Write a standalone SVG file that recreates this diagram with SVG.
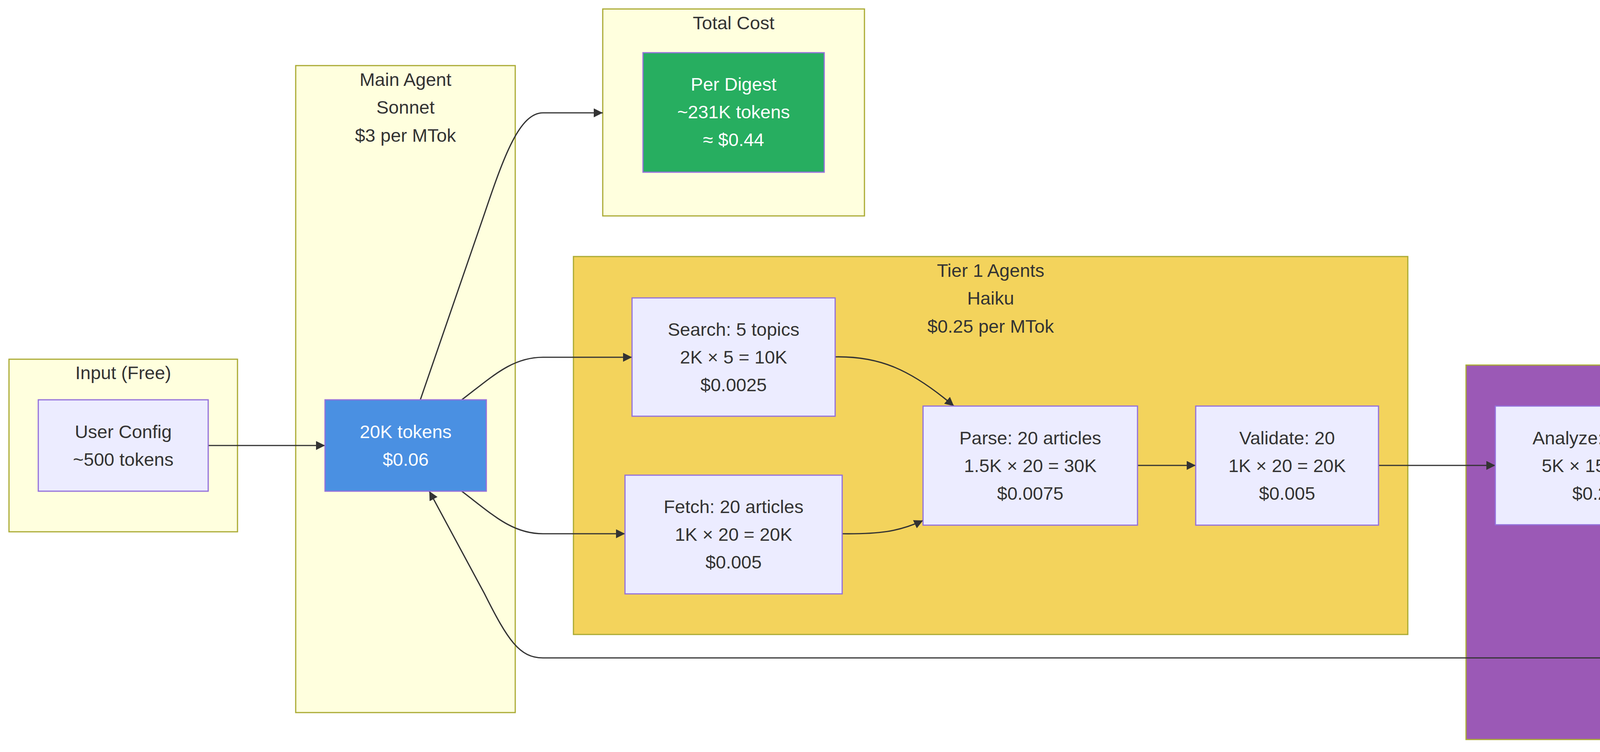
<svg xmlns="http://www.w3.org/2000/svg" width="5799" height="1926" viewBox="0 0 5799 1926">
<defs>
<style>
text{font-family:"Liberation Sans",Arial,sans-serif;font-size:47px;fill:#333;text-anchor:middle;dominant-baseline:central}
.cl{fill:#ffffde;stroke:#aaaa33;stroke-width:3}
.nd{fill:#ececff;stroke:#9370db;stroke-width:3}
.w{fill:#fff}
.e{fill:none;stroke:#333;stroke-width:3.2}
</style>
<marker id="arr" viewBox="0 0 10 10" refX="10" refY="5" markerUnits="userSpaceOnUse" markerWidth="23" markerHeight="23" orient="auto">
<path d="M0,0 L10,5 L0,10 z" fill="#333"/>
</marker>
</defs>
<rect width="5799" height="1926" fill="#fff"/>
<g id="clusters">
<g id="cluster-input"><rect class="cl" x="23" y="920" width="585" height="442"/><text x="315.5" y="954">Input (Free)</text></g>
<g id="cluster-main"><rect class="cl" x="757" y="168" width="562" height="1657"/><text x="1038" y="203">Main Agent</text><text x="1038" y="274">Sonnet</text><text x="1038" y="346">$3 per MTok</text></g>
<g id="cluster-total"><rect class="cl" x="1543" y="23" width="670" height="530"/><text x="1878" y="58">Total Cost</text></g>
<g id="cluster-tier1"><rect class="cl" style="fill:#f3d35c" x="1468" y="657" width="2136" height="968"/><text x="2536" y="692">Tier 1 Agents</text><text x="2536" y="763">Haiku</text><text x="2536" y="835">$0.25 per MTok</text></g>
<g id="cluster-tier2"><rect class="cl" style="fill:#9b59b6" x="3753" y="935" width="1998" height="959"/><text class="w" x="4752" y="969">Tier 2 Agents</text><text class="w" x="4752" y="1038">Sonnet</text></g>
</g>
<g id="connectors">
<path class="e" marker-end="url(#arr)" d="M533,1141 L832,1141"/>
<path class="e" marker-end="url(#arr)" d="M1076,1024 L1240,548 C1290,400 1330,289 1390,289 L1543,289"/>
<path class="e" marker-end="url(#arr)" d="M1182,1024 C1260,965 1310,915 1390,915 L1618,915"/>
<path class="e" marker-end="url(#arr)" d="M1182,1258 C1260,1317 1310,1367 1390,1367 L1600,1367"/>
<path class="e" marker-end="url(#arr)" d="M2138,914 C2250,912 2330,945 2442,1040"/>
<path class="e" marker-end="url(#arr)" d="M2156,1367 C2250,1368 2300,1362 2363,1333"/>
<path class="e" marker-end="url(#arr)" d="M2912,1192 L3061,1192"/>
<path class="e" marker-end="url(#arr)" d="M3529,1192 L3828,1192"/>
<path class="e" marker-end="url(#arr)" d="M4366,1192 L4515,1192"/>
<path class="e" marker-end="url(#arr)" d="M5058,1192 C5130,1190 5165,1200 5208,1228"/>
<path class="e" marker-end="url(#arr)" d="M5300,1502 C5230,1592 5160,1685 4900,1685 L1390,1685 C1330,1685 1300,1640 1240,1520 L1099,1258"/>
</g>
<g id="node-userconfig"><rect class="nd" x="98" y="1024" width="435" height="234"/><text x="315.5" y="1105">User Config</text><text x="315.5" y="1176">~500 tokens</text></g>
<g id="node-main"><rect class="nd" style="fill:#4a90e2" x="832" y="1024" width="413" height="234"/><text class="w" x="1038.5" y="1105">20K tokens</text><text class="w" x="1038.5" y="1176">$0.06</text></g>
<g id="node-perdigest"><rect class="nd" style="fill:#27ae60" x="1646" y="135" width="464" height="306"/><text class="w" x="1878" y="215">Per Digest</text><text class="w" x="1878" y="286">~231K tokens</text><text class="w" x="1878" y="357">≈ $0.44</text></g>
<g id="node-search"><rect class="nd" x="1618" y="763" width="520" height="303"/><text x="1878" y="843">Search: 5 topics</text><text x="1878" y="914">2K × 5 = 10K</text><text x="1878" y="985">$0.0025</text></g>
<g id="node-fetch"><rect class="nd" x="1600" y="1217" width="556" height="304"/><text x="1878" y="1297">Fetch: 20 articles</text><text x="1878" y="1368">1K × 20 = 20K</text><text x="1878" y="1439">$0.005</text></g>
<g id="node-parse"><rect class="nd" x="2363" y="1040" width="549" height="305"/><text x="2637.5" y="1121">Parse: 20 articles</text><text x="2637.5" y="1192">1.5K × 20 = 30K</text><text x="2637.5" y="1263">$0.0075</text></g>
<g id="node-validate"><rect class="nd" x="3061" y="1040" width="468" height="305"/><text x="3295" y="1121">Validate: 20</text><text x="3295" y="1192">1K × 20 = 20K</text><text x="3295" y="1263">$0.005</text></g>
<g id="node-analyze"><rect class="nd" x="3828" y="1040" width="538" height="304"/><text x="4097" y="1121">Analyze: 15 kept</text><text x="4097" y="1192">5K × 15 = 75K</text><text x="4097" y="1263">$0.225</text></g>
<g id="node-bias"><rect class="nd" x="4515" y="1040" width="543" height="304"/><text x="4786.5" y="1121">Bias: 12 included</text><text x="4786.5" y="1192">3K × 12 = 36K</text><text x="4786.5" y="1263">$0.108</text></g>
<g id="node-synthesize"><rect class="nd" x="5208" y="1199" width="467" height="303"/><text x="5441.5" y="1279">Synthesize: 1</text><text x="5441.5" y="1350">10K × 1 = 10K</text><text x="5441.5" y="1421">$0.03</text></g>
</svg>
